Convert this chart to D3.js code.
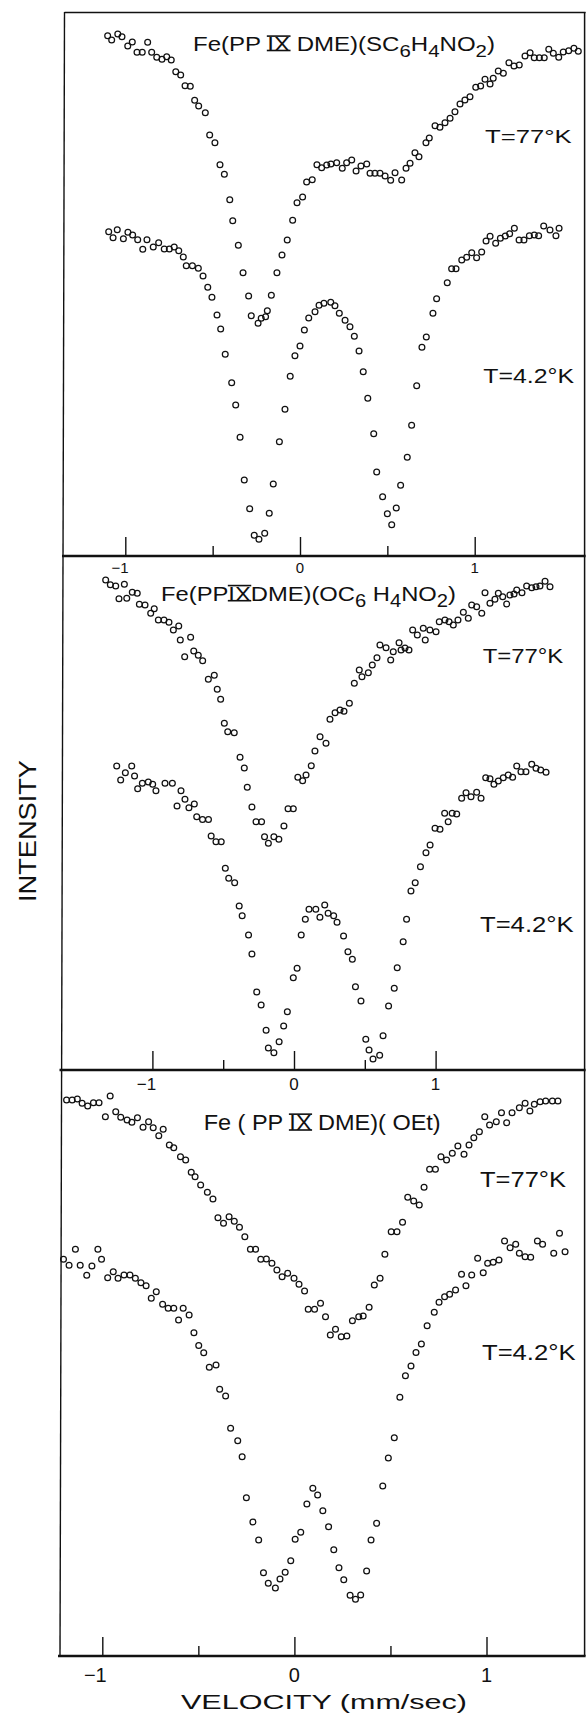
<!DOCTYPE html>
<html>
<head>
<meta charset="utf-8">
<script src="https://cdn.jsdelivr.net/npm/d3@7"></script>
<style>
  html, body { margin: 0; padding: 0; background: #ffffff; }
  svg { display: block; }
  text { font-family: "Liberation Sans", Arial, sans-serif; fill: #111; }
</style>
</head>
<body>
<svg id="chart" width="586" height="1714"></svg>
<script>
// ---------------- DATA (velocity in mm/sec, intensity in arbitrary units) ----------------
const majorTicks = [-1, 0, 1];
const minorTicks = [-0.5, 0.5];
const tickLabels = ["\u22121", "0", "1"];
const tempLabels = ["T=77\u00b0K", "T=4.2\u00b0K"];
const axisTitleX = "VELOCITY (mm/sec)";
const axisTitleY = "INTENSITY";

// Panel 1: Fe(PP IX DME)(SC6H4NO2)
const sc77K = [[-1.101,520.3],[-1.078,516],[-1.043,522],[-1.019,519.3],[-0.986,510],[-0.960,514],[-0.933,503.7],[-0.903,503.7],[-0.872,513.7],[-0.849,503.7],[-0.820,498.7],[-0.790,496.7],[-0.763,499.3],[-0.737,496],[-0.711,484.3],[-0.683,481],[-0.658,470.3],[-0.628,469.7],[-0.603,455.7],[-0.580,450],[-0.542,443.3],[-0.517,421],[-0.487,413.3],[-0.458,391.3],[-0.433,381.7],[-0.402,356.3],[-0.385,335.3],[-0.353,310.7],[-0.326,283.3],[-0.294,260],[-0.279,240.3],[-0.240,232.7],[-0.222,237.7],[-0.197,239.3],[-0.187,245.3],[-0.164,260.7],[-0.132,283.3],[-0.103,301],[-0.073,316],[-0.042,335.7],[-0.017,353.3],[0.015,359],[0.038,374],[0.070,376.3],[0.097,391.3],[0.124,388.3],[0.153,391],[0.177,392],[0.210,393.3],[0.242,387.7],[0.267,393.3],[0.296,396],[0.321,385],[0.349,390],[0.382,392],[0.401,382.7],[0.429,382.7],[0.458,382.7],[0.487,380],[0.519,375.7],[0.544,383.3],[0.582,376],[0.607,387.7],[0.630,392.7],[0.658,403.3],[0.681,399.3],[0.721,413.3],[0.740,418],[0.773,430.3],[0.801,428.7],[0.830,433.3],[0.859,437.7],[0.887,444.3],[0.916,452],[0.944,456],[0.973,459.3],[1.006,468.7],[1.034,470],[1.059,476.7],[1.088,472],[1.106,477.7],[1.135,485],[1.164,482.7],[1.196,493.3],[1.225,490],[1.255,491],[1.288,500],[1.317,503.3],[1.341,498.3],[1.370,498.3],[1.398,498.3],[1.424,506.7],[1.450,502.7],[1.481,498.7],[1.507,504],[1.538,505.3],[1.568,507.7],[1.593,504.7]];
const sc42K = [[-1.095,324.3],[-1.070,318.3],[-1.046,326.3],[-1.011,317.3],[-0.985,323.7],[-0.958,321],[-0.929,316.3],[-0.900,306.7],[-0.876,316.3],[-0.840,309],[-0.809,313.3],[-0.777,307],[-0.748,307],[-0.720,309],[-0.694,305.3],[-0.668,299],[-0.651,290.3],[-0.616,290.3],[-0.582,287.7],[-0.555,280],[-0.528,268.7],[-0.504,258.7],[-0.475,241],[-0.454,227],[-0.428,201.7],[-0.391,173.3],[-0.368,151],[-0.343,118.7],[-0.319,76],[-0.288,47.3],[-0.262,20.7],[-0.235,16.7],[-0.202,22.7],[-0.176,42.7],[-0.153,72],[-0.118,114.3],[-0.086,146.7],[-0.056,179.7],[-0.029,200.3],[0.000,210],[0.025,226],[0.050,238],[0.086,244.3],[0.109,250.7],[0.137,252.7],[0.176,253.7],[0.200,250.3],[0.225,242.7],[0.258,235.7],[0.286,229.3],[0.311,219.7],[0.338,205],[0.362,184.3],[0.388,157.7],[0.422,122.3],[0.439,84],[0.473,59.3],[0.500,42.3],[0.525,31.3],[0.551,48],[0.576,70.7],[0.614,98.7],[0.639,130.7],[0.668,170.3],[0.698,208.7],[0.723,219],[0.761,242.7],[0.782,257.3],[0.843,273.3],[0.868,287.3],[0.893,287.3],[0.926,296],[0.954,298.7],[0.983,303.3],[1.011,298.3],[1.040,304],[1.065,315],[1.088,319.7],[1.120,312.7],[1.147,317.7],[1.175,320],[1.200,322.3],[1.227,327.7],[1.254,316],[1.282,316],[1.313,320.3],[1.341,321],[1.366,320.3],[1.395,330],[1.431,326],[1.465,320.3],[1.483,327.7]];

// Panel 2: Fe(PP IX DME)(OC6H4NO2)
const oc77K = [[-1.330,490],[-1.297,485.3],[-1.259,484],[-1.236,471.3],[-1.198,485.7],[-1.181,471.7],[-1.142,477.7],[-1.107,476.7],[-1.092,465.7],[-1.052,465],[-1.012,456.7],[-0.987,461.3],[-0.958,450],[-0.918,450],[-0.883,447.7],[-0.852,440],[-0.814,444],[-0.803,430],[-0.772,413.3],[-0.730,432.7],[-0.708,419],[-0.676,414.7],[-0.645,409.3],[-0.605,390.7],[-0.563,394.7],[-0.542,380.7],[-0.518,370.7],[-0.492,346.7],[-0.468,338.3],[-0.422,337.3],[-0.381,312.7],[-0.351,302],[-0.330,282.7],[-0.297,263],[-0.268,248.3],[-0.229,248.3],[-0.208,233.3],[-0.181,226.7],[-0.142,233.3],[-0.107,230.7],[-0.071,244],[-0.042,261.3],[-0.005,261.3],[0.027,292.7],[0.061,289.3],[0.085,295],[0.122,304.3],[0.148,319],[0.184,333.3],[0.226,326.7],[0.254,350.7],[0.290,357.3],[0.325,360],[0.353,358.7],[0.391,366.7],[0.426,386.7],[0.461,400],[0.480,393.3],[0.525,397.3],[0.553,405],[0.586,412.3],[0.607,425],[0.650,422.3],[0.683,410],[0.701,418.3],[0.742,427.3],[0.756,420],[0.784,422],[0.812,420],[0.838,440],[0.871,435],[0.913,441.7],[0.927,430],[0.960,440],[1.003,438.3],[1.026,448.3],[1.066,450],[1.095,448.3],[1.125,445],[1.158,450],[1.196,457.7],[1.231,451.7],[1.255,465],[1.290,463.3],[1.326,456.7],[1.349,477.3],[1.384,466.7],[1.419,470.7],[1.443,476.7],[1.474,473.3],[1.502,466],[1.525,475],[1.554,476],[1.573,480],[1.610,477.3],[1.643,484],[1.679,482.3],[1.709,483.3],[1.737,484],[1.773,488.7],[1.808,483.3]];
const oc42K = [[-1.252,304],[-1.224,290],[-1.191,297.3],[-1.146,304],[-1.126,294],[-1.104,281.3],[-1.071,286.7],[-1.029,288],[-0.998,285.7],[-0.975,279.3],[-0.911,286.7],[-0.859,286.7],[-0.826,264],[-0.798,279.3],[-0.770,270.7],[-0.742,262.3],[-0.704,266],[-0.687,253.3],[-0.646,250.5],[-0.604,250.5],[-0.585,234],[-0.551,228.3],[-0.514,228.3],[-0.485,201.7],[-0.461,191.7],[-0.419,187.3],[-0.387,164],[-0.366,154.3],[-0.321,135],[-0.297,116],[-0.263,78],[-0.232,65],[-0.197,39.7],[-0.181,22],[-0.142,17.3],[-0.105,28.3],[-0.073,44],[-0.047,58.3],[-0.005,92.3],[0.022,101.7],[0.051,135],[0.080,150.7],[0.106,160.7],[0.154,160.7],[0.183,152.7],[0.217,165],[0.241,156.7],[0.280,154.3],[0.304,147.7],[0.350,134],[0.381,118.3],[0.412,110.7],[0.434,83.3],[0.473,69],[0.507,30.7],[0.530,20],[0.558,11],[0.605,14.7],[0.629,34.3],[0.668,64],[0.708,81.7],[0.729,102.3],[0.771,128.3],[0.795,150.7],[0.826,179],[0.856,187.3],[0.893,203.3],[0.932,217.3],[0.961,225],[0.996,241.7],[1.031,240.7],[1.064,256.7],[1.089,248.3],[1.117,256.7],[1.149,256],[1.184,271.7],[1.215,277.3],[1.250,273.3],[1.290,277.7],[1.321,271.7],[1.354,292.3],[1.384,291.3],[1.412,285.7],[1.443,289],[1.478,292.3],[1.513,295],[1.544,292.7],[1.573,304],[1.603,298.3],[1.638,298.3],[1.679,305.7],[1.709,301.7],[1.742,300],[1.780,297.7]];

// Panel 3: Fe(PP IX DME)(OEt)
const oet77K = [[-1.186,556],[-1.157,556],[-1.130,557],[-1.105,552.7],[-1.076,550],[-1.046,553.3],[-1.017,553.3],[-0.984,539.3],[-0.959,560],[-0.930,544.3],[-0.904,538.7],[-0.871,536],[-0.846,533.7],[-0.817,538.3],[-0.788,528.7],[-0.759,534.3],[-0.735,528.3],[-0.706,520.3],[-0.683,526.7],[-0.651,511],[-0.628,508.3],[-0.593,499.3],[-0.566,496],[-0.537,483.7],[-0.517,479.3],[-0.488,471],[-0.453,463.7],[-0.424,457],[-0.398,438.3],[-0.369,432.7],[-0.340,439.3],[-0.313,434.7],[-0.286,428.7],[-0.258,419.3],[-0.229,406.7],[-0.202,406.7],[-0.175,396.7],[-0.146,397],[-0.117,392.7],[-0.091,386],[-0.064,379.3],[-0.035,382.7],[-0.002,377.7],[0.024,371.7],[0.053,365],[0.072,346.7],[0.105,346.7],[0.136,352.7],[0.162,339.3],[0.187,321],[0.214,326.7],[0.244,319.3],[0.273,320],[0.302,335.3],[0.335,339.3],[0.358,340],[0.389,348.7],[0.416,371],[0.446,377.7],[0.471,401.7],[0.504,424.3],[0.534,424.3],[0.563,433.7],[0.590,458.7],[0.621,455],[0.650,451],[0.675,468.7],[0.704,486.7],[0.734,486.7],[0.763,499.3],[0.792,496],[0.822,502.7],[0.851,510],[0.883,501.7],[0.909,511],[0.934,518.3],[0.963,524.3],[0.991,539.3],[1.016,531],[1.051,534.3],[1.078,543.3],[1.105,533.3],[1.133,543.3],[1.171,548.3],[1.201,552.7],[1.226,545],[1.249,551.7],[1.279,554.3],[1.308,555],[1.343,555],[1.372,555]];
const oet42K = [[-1.202,396.7],[-1.173,390.7],[-1.140,406.7],[-1.115,390.7],[-1.081,380.7],[-1.054,390],[-1.023,406.7],[-1.004,396.7],[-0.972,378.3],[-0.943,384.3],[-0.918,377.7],[-0.887,381],[-0.856,381],[-0.828,377.7],[-0.799,373.3],[-0.772,370.3],[-0.745,357.7],[-0.719,364.3],[-0.686,351.7],[-0.657,347.7],[-0.628,347.7],[-0.603,336],[-0.579,347.7],[-0.548,341],[-0.523,323.3],[-0.498,310.5],[-0.472,303.3],[-0.443,288.7],[-0.408,291],[-0.389,266.7],[-0.358,260],[-0.332,227.7],[-0.295,215.3],[-0.272,199.3],[-0.250,158.3],[-0.216,134],[-0.186,116],[-0.161,83.3],[-0.136,72.7],[-0.099,68],[-0.075,77],[-0.048,83.7],[-0.019,95.3],[0.004,116.7],[0.033,123.7],[0.065,152],[0.096,167.7],[0.121,161],[0.148,145.3],[0.178,129.3],[0.205,106.3],[0.232,88.3],[0.257,76.3],[0.290,60.7],[0.318,56.7],[0.345,61],[0.376,85],[0.399,116],[0.428,132.7],[0.460,170],[0.489,198],[0.520,218.3],[0.549,258.7],[0.578,280.3],[0.607,290],[0.633,303.5],[0.661,312],[0.691,330.3],[0.728,343.7],[0.753,353.7],[0.782,359.3],[0.808,361.7],[0.839,366],[0.870,381.7],[0.893,370.3],[0.923,381],[0.954,397.7],[0.983,383.3],[1.006,392.7],[1.035,393.7],[1.065,396],[1.094,415],[1.123,408.3],[1.152,411.7],[1.171,402.7],[1.201,399.3],[1.230,398.7],[1.265,415],[1.292,411.7],[1.350,402.7],[1.380,422.7],[1.409,404.3]];

// ---------------- LAYOUT ----------------
const svg = d3.select("#chart");
const ink = "#111";
const frameRight = 584.6;

const panels = [
  { top: 12.5, bottom: 556, left: 64, zero: 300, unit: 174.7, series: [sc77K, sc42K],
    tickFont: 15, labelBase: 572.5,
    title: { x: 193, y: 50.5, size: 20, len: 302,
      parts: [{t:"Fe(PP "},{t:"IX",rn:1},{t:" DME)(SC"},{t:"6",sub:1},{t:"H"},{t:"4",sub:1},{t:"NO"},{t:"2",sub:1},{t:")"}] },
    temps: [{x:485, y:143.3, size:19, len:86.7}, {x:483.3, y:383.3, size:21, len:90.7}] },
  { top: 556, bottom: 1070, left: 61.5, zero: 294, unit: 141.6, series: [oc77K, oc42K],
    tickFont: 17, labelBase: 1090,
    title: { x: 161, y: 600.7, size: 21, len: 295,
      parts: [{t:"Fe(PP"},{t:"IX",rn:1},{t:"DME)(OC"},{t:"6",sub:1},{t:" H"},{t:"4",sub:1},{t:"NO"},{t:"2",sub:1},{t:")"}] },
    temps: [{x:482.7, y:663.3, size:21, len:80.6}, {x:480, y:931.7, size:22, len:93.6}] },
  { top: 1070, bottom: 1656, left: 60, zero: 294.4, unit: 192.1, series: [oet77K, oet42K],
    tickFont: 20, labelBase: 1682,
    title: { x: 203.7, y: 1130, size: 22, len: 237,
      parts: [{t:"Fe ( PP "},{t:"IX",rn:1},{t:" DME)( OEt)"}] },
    temps: [{x:480, y:1187, size:22, len:86}, {x:482, y:1360, size:22, len:93.5}] }
];

function richText(g, cfg) {
  const t = g.append("text")
    .attr("x", cfg.x).attr("y", cfg.y)
    .attr("font-size", cfg.size)
    .attr("textLength", cfg.len)
    .attr("lengthAdjust", "spacingAndGlyphs");
  let shifted = false;
  const dyAmt = cfg.size * 0.3;
  let idx = 0;
  const romans = [];
  cfg.parts.forEach(p => {
    const sp = t.append("tspan").text(p.t);
    if (p.sub) { sp.attr("font-size", cfg.size * 0.85).attr("dy", dyAmt); shifted = true; }
    else if (shifted) { sp.attr("dy", -dyAmt); shifted = false; }
    if (p.rn) romans.push([idx, idx + p.t.length - 1]);
    idx += p.t.length;
  });
  // bars above and below the Roman numeral
  const node = t.node();
  romans.forEach(([a, b]) => {
    let x1, x2;
    try {
      x1 = node.getStartPositionOfChar(a).x;
      x2 = node.getEndPositionOfChar(b).x;
    } catch (e) { return; }
    const capTop = cfg.y - cfg.size * 0.72;
    [capTop, cfg.y].forEach(yy => {
      g.append("line").attr("x1", x1 - 0.5).attr("x2", x2 + 0.5)
        .attr("y1", yy).attr("y2", yy)
        .attr("stroke", ink).attr("stroke-width", 1.6);
    });
  });
  return t;
}

// Outer frame: top edge, left edge, right edge
svg.append("line").attr("x1", 64.5).attr("x2", frameRight + 1).attr("y1", 12.5).attr("y2", 12.5)
  .attr("stroke", ink).attr("stroke-width", 1.6);
svg.append("line").attr("x1", 64.5).attr("x2", 60).attr("y1", 12).attr("y2", 1656)
  .attr("stroke", ink).attr("stroke-width", 1.4);
svg.append("line").attr("x1", frameRight).attr("x2", frameRight).attr("y1", 12).attr("y2", 1656)
  .attr("stroke", ink).attr("stroke-width", 1.5);

panels.forEach(p => {
  const g = svg.append("g");
  const x = d3.scaleLinear().domain([-1, 1]).range([p.zero - p.unit, p.zero + p.unit]);
  const y = d3.scaleLinear().domain([0, p.bottom - p.top]).range([p.bottom, p.top]);

  // tick marks pointing up into the panel
  const major = g.append("g").attr("transform", `translate(0,${p.bottom})`)
    .call(d3.axisTop(x).tickValues(majorTicks).tickSize(19).tickSizeOuter(0).tickFormat(""));
  const minor = g.append("g").attr("transform", `translate(0,${p.bottom})`)
    .call(d3.axisTop(x).tickValues(minorTicks).tickSize(10).tickSizeOuter(0).tickFormat(""));
  [major, minor].forEach(a => {
    a.select(".domain").remove();
    a.selectAll(".tick line").attr("stroke", ink).attr("stroke-width", 1.4);
  });

  // heavy baseline
  g.append("line").attr("x1", p.left - 2).attr("x2", frameRight + 1)
    .attr("y1", p.bottom).attr("y2", p.bottom)
    .attr("stroke", ink).attr("stroke-width", 2.3);

  // tick labels under the baseline
  g.selectAll("text.tl").data(majorTicks).join("text")
    .attr("class", "tl")
    .attr("x", (d, i) => i === 0 ? x(d) + p.tickFont * 0.22 : x(d))
    .attr("y", p.labelBase)
    .attr("text-anchor", (d, i) => i === 0 ? "end" : "middle")
    .attr("font-size", p.tickFont)
    .text((d, i) => tickLabels[i]);

  // data points: open circles
  p.series.forEach(s => {
    g.append("g").selectAll("circle").data(s).join("circle")
      .attr("cx", d => x(d[0]))
      .attr("cy", d => y(d[1]))
      .attr("r", 2.9)
      .attr("fill", "none")
      .attr("stroke", ink)
      .attr("stroke-width", 1.25);
  });

  // compound title
  richText(g, p.title);

  // temperature labels
  p.temps.forEach((tc, i) => {
    g.append("text").attr("x", tc.x).attr("y", tc.y)
      .attr("font-size", tc.size)
      .attr("textLength", tc.len).attr("lengthAdjust", "spacingAndGlyphs")
      .text(tempLabels[i]);
  });
});

// axis titles
svg.append("text")
  .attr("x", 181).attr("y", 1709)
  .attr("font-size", 21)
  .attr("textLength", 286).attr("lengthAdjust", "spacingAndGlyphs")
  .text(axisTitleX);

svg.append("text")
  .attr("transform", "translate(35.5,831) rotate(-90)")
  .attr("text-anchor", "middle")
  .attr("font-size", 24)
  .attr("textLength", 142).attr("lengthAdjust", "spacingAndGlyphs")
  .text(axisTitleY);
</script>
</body>
</html>
